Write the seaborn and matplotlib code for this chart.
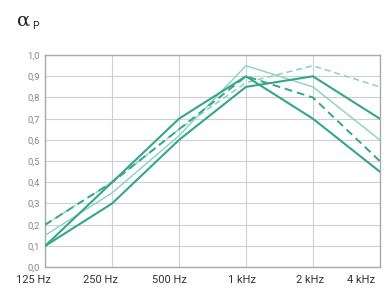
import matplotlib
matplotlib.use("Agg")
import matplotlib.pyplot as plt
import matplotlib.transforms as mtransforms
import seaborn as sns
import pandas as pd

freqs = [125, 250, 500, 1000, 2000, 4000]
freq_labels = ["125 Hz", "250 Hz", "500 Hz", "1 kHz", "2 kHz", "4 kHz"]
series_a = [0.10, 0.40, 0.70, 0.90, 0.70, 0.45]
series_b = [0.10, 0.30, 0.60, 0.85, 0.90, 0.70]
series_c = [0.20, 0.40, 0.65, 0.90, 0.80, 0.50]
series_d = [0.15, 0.35, 0.62, 0.95, 0.85, 0.60]
series_e = [0.20, 0.40, 0.65, 0.87, 0.95, 0.85]
y_ticks = [0.0, 0.1, 0.2, 0.3, 0.4, 0.5, 0.6, 0.7, 0.8, 0.9, 1.0]
y_labels = ["0,0", "0,1", "0,2", "0,3", "0,4", "0,5", "0,6", "0,7", "0,8", "0,9", "1,0"]

sns.set_style("white")
plt.rcParams['font.family'] = ['Roboto', 'DejaVu Sans']

rows = []
for name, vals in [("a", series_a), ("b", series_b), ("c", series_c), ("d", series_d), ("e", series_e)]:
    for f, v in zip(freqs, vals):
        rows.append({"series": name, "freq": f, "alpha": v})
df = pd.DataFrame(rows)

fig = plt.figure(figsize=(3.86, 2.9), dpi=100)
ax = fig.add_axes([0.117, 0.079, 0.867, 0.731])

dark = "#35a688"
light = "#86d4bb"
styles = {
    "a": dict(color=dark, lw=1.5, ls="-"),
    "b": dict(color=dark, lw=1.5, ls="-"),
    "c": dict(color=dark, lw=1.4, ls=(0, (4, 2.5))),
    "d": dict(color=light, lw=1.0, ls="-"),
    "e": dict(color=light, lw=1.1, ls=(0, (4, 2.5))),
}
for name in ["d", "e", "c", "b", "a"]:
    st = styles[name]
    sns.lineplot(data=df[df.series == name], x="freq", y="alpha", ax=ax,
                 color=st["color"], linewidth=st["lw"], linestyle=st["ls"],
                 legend=False, zorder=3)

ax.set_xscale("log", base=2)
ax.set_xlim(125, 4000)
ax.set_ylim(0, 1.0)
ax.set_xticks(freqs)
ax.set_xticklabels(freq_labels, fontsize=8, color="#333333")
ax.minorticks_off()
ax.set_yticks(y_ticks)
ax.set_yticklabels(y_labels, fontsize=6.8, color="#888888")
ax.set_xlabel("")
ax.set_ylabel("")
ax.grid(True, color="#d0d0d0", linewidth=0.8, zorder=0)
for sp in ax.spines.values():
    sp.set_color("#aaaaaa")
    sp.set_linewidth(1.0)
ax.tick_params(axis="both", direction="inout", length=4, width=0.8, color="#999999", pad=2)
ax.tick_params(axis="x", pad=4)

# shift x tick labels as in the reference
shifts_px = [-12, -12, -10, -4, -3, -19]
for lab, dx in zip(ax.get_xticklabels(), shifts_px):
    lab.set_transform(lab.get_transform() + mtransforms.ScaledTranslation(dx / 100, 0, fig.dpi_scale_trans))

fig.text(0.044, 0.93, "α", fontsize=14, color="#222222", ha="left", va="center",
         family=["DejaVu Serif"])
fig.text(0.082, 0.91, "P", fontsize=7.5, color="#222222", ha="left", va="center")

fig.savefig("out.png", dpi=100)
